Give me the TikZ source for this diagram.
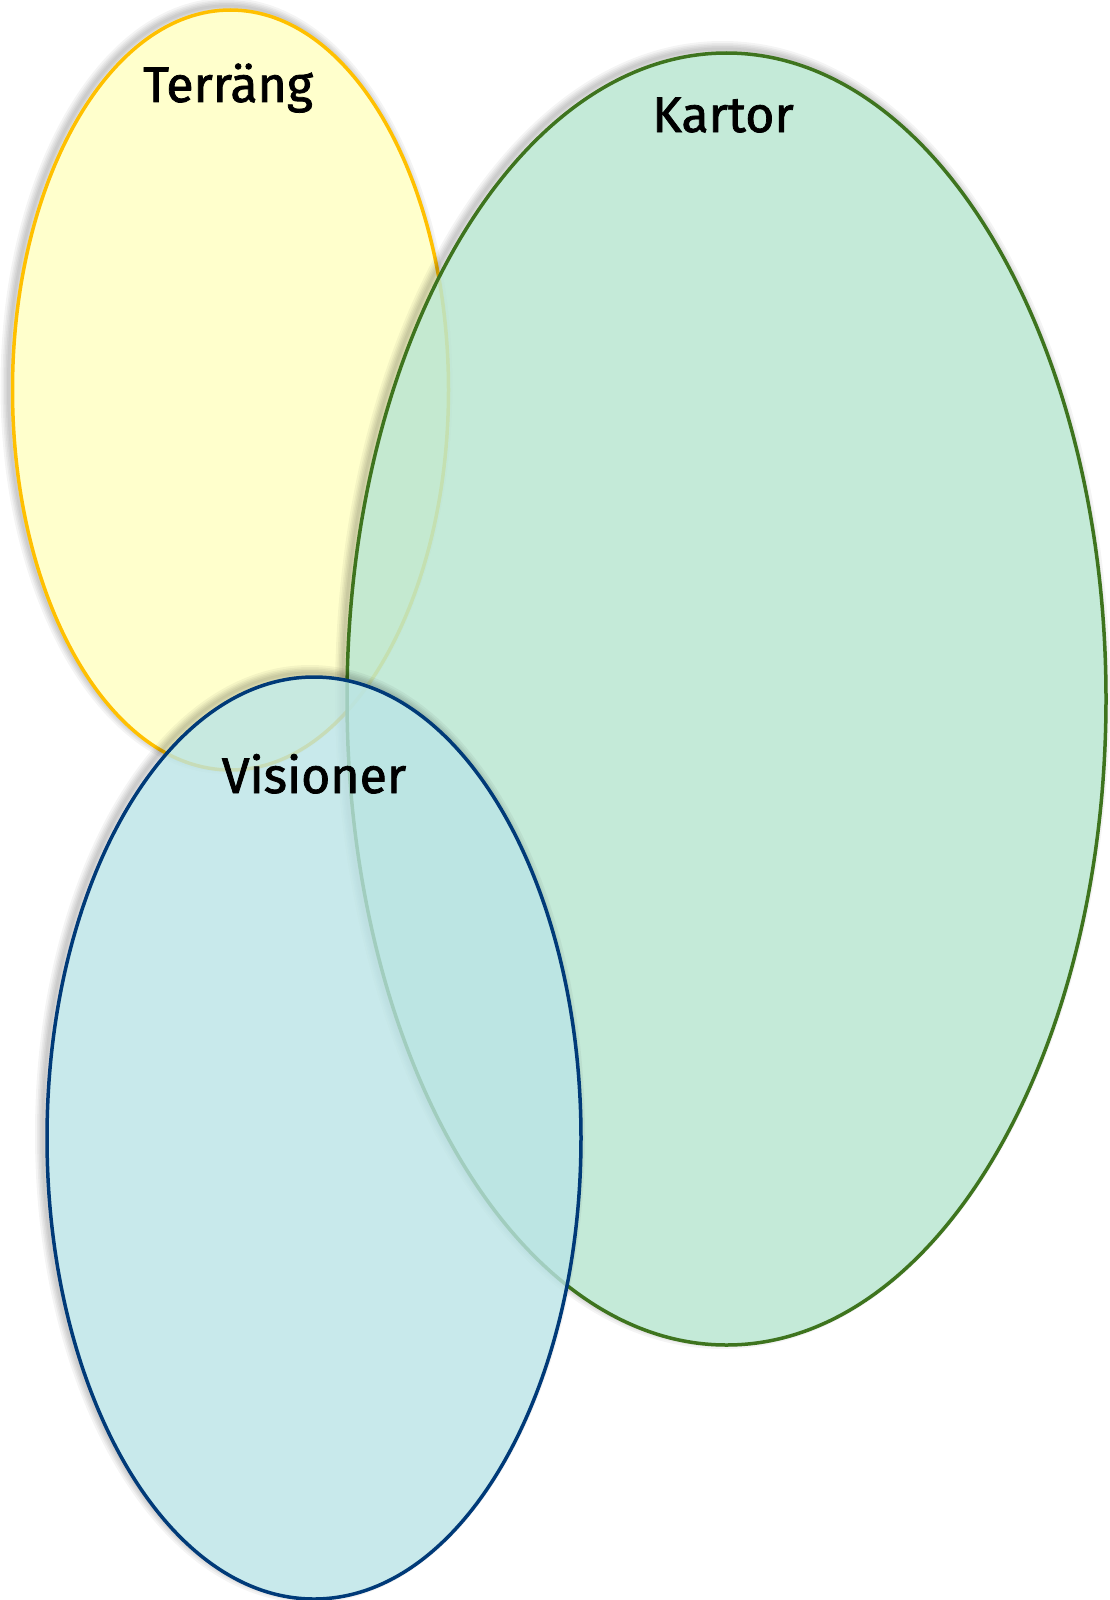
\documentclass[tikz,border=0pt]{standalone}
\usepackage{fontspec}
\setmainfont{Fira Sans}
\newfontfamily\lblfont{Fira Sans}[FakeBold=1.5]
\usetikzlibrary{calc}
\definecolor{yfill}{RGB}{255,255,204}
\definecolor{ydraw}{RGB}{255,192,0}
\definecolor{gfill}{RGB}{186,230,209}
\definecolor{gdraw}{RGB}{62,116,30}
\definecolor{bfill}{RGB}{186,228,230}
\definecolor{bdraw}{RGB}{0,58,120}
\newcommand\mysoftshadow[3]{%
  \begin{scope}[even odd rule]
    \clip (-50,-50) rectangle (1200,1700) #1 ellipse [x radius=#2, y radius=#3];
    \foreach \lw in {16,12,9,6,3}{
      \draw[black, opacity=0.045, line width=\lw pt] ($#1+(-4,-4)$) ellipse [x radius=#2, y radius=#3];
    }
  \end{scope}}
\begin{document}
\begin{tikzpicture}[x=1pt,y=-1pt,
  ell/.style={line width=3.5pt},
  lbl/.style={font=\lblfont\fontsize{50}{60}\selectfont, text=black, inner sep=0pt, anchor=base}]
\useasboundingbox (0,0) rectangle (1109,1600);
% Terraeng
\mysoftshadow{(230.5,390)}{218}{380}
\draw[ell, draw=ydraw, fill=yfill] (230.5,390) ellipse [x radius=218, y radius=380];
% Kartor
\mysoftshadow{(726.5,699)}{379.5}{646}
\draw[ell, draw=gdraw, fill=gfill, fill opacity=0.85] (726.5,699) ellipse [x radius=379.5, y radius=646];
% Visioner
\mysoftshadow{(314,1138)}{267}{461}
\draw[ell, draw=bdraw, fill=bfill, fill opacity=0.8] (314,1138) ellipse [x radius=267, y radius=461];
% labels
\node[lbl] (terr) at (228,102) {Terräng};
\node[lbl] (kart) at (723,132) {Kartor};
\node[lbl] (visi) at (314,793) {Visioner};
\end{tikzpicture}
\end{document}
